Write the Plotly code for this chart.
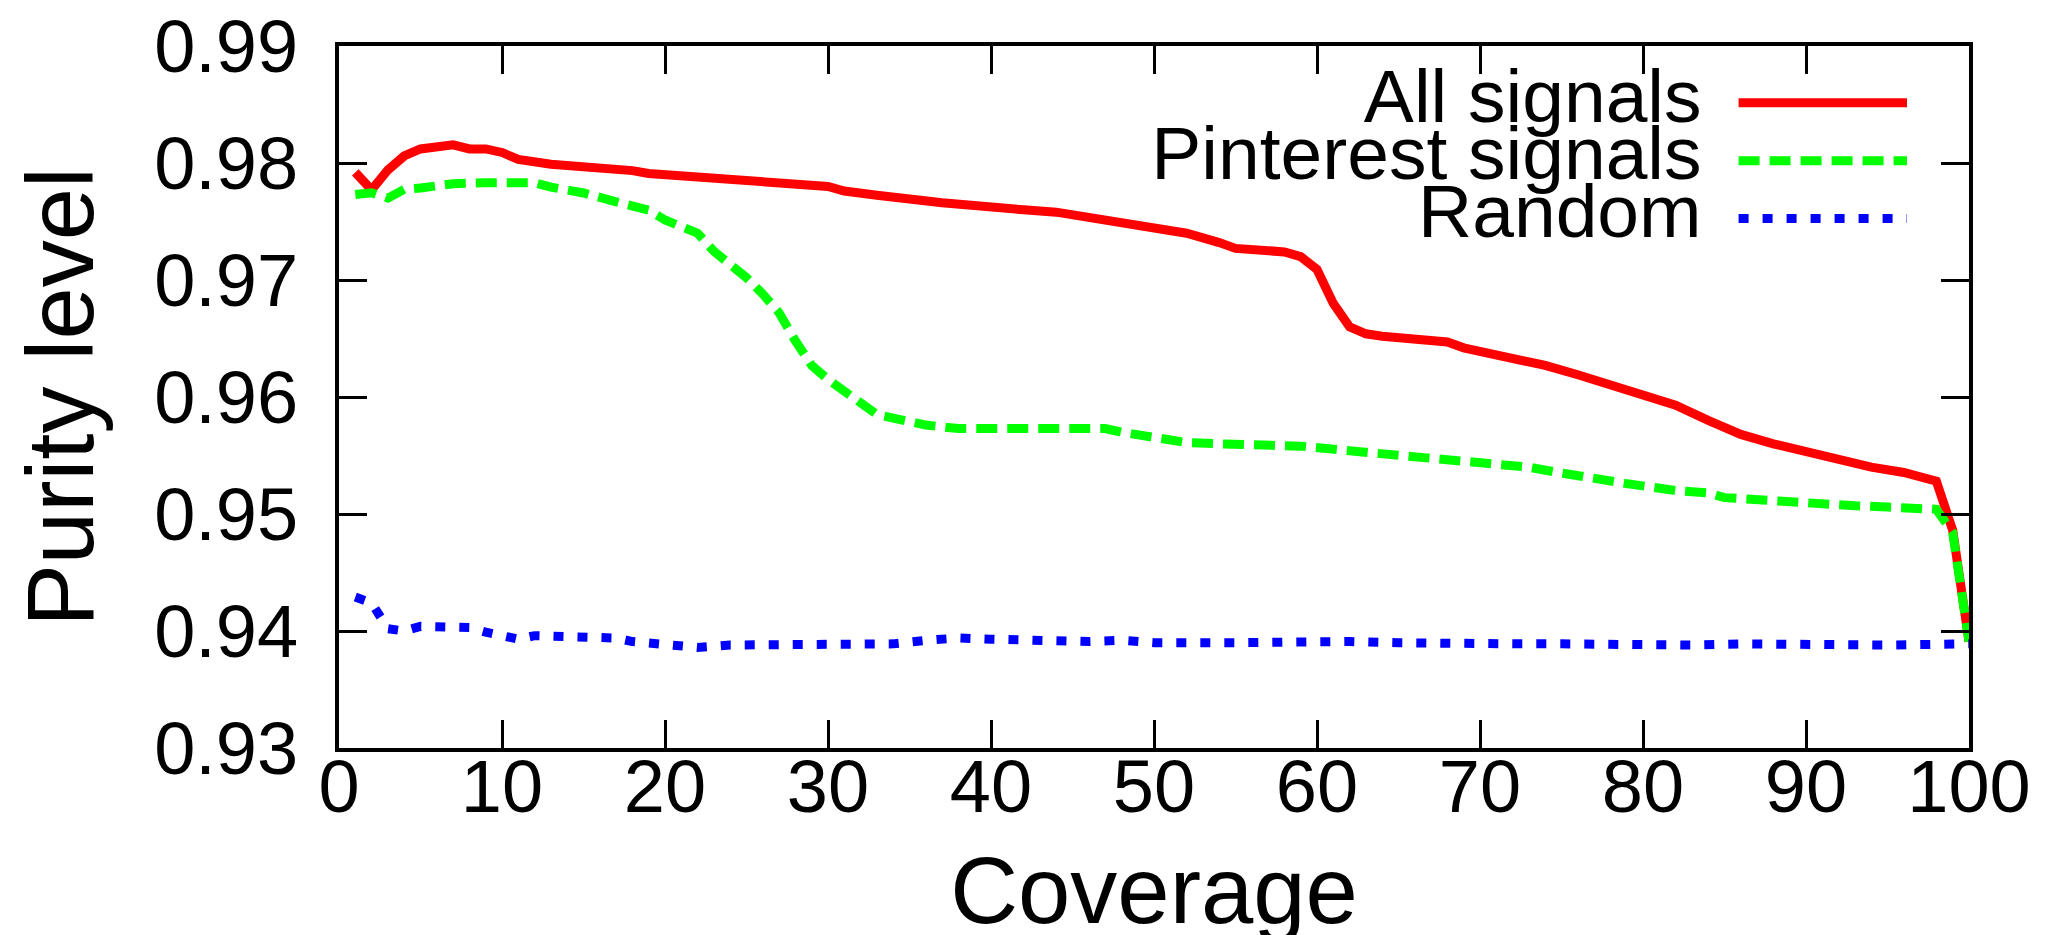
import plotly.graph_objects as go

# ---- data ----
all_x = [1, 2, 3, 4, 5, 7, 8, 9, 10, 11, 13, 16, 18, 19, 20, 22, 24, 26, 28, 30, 31, 32, 33,
         37, 39, 42, 44, 47, 50, 52, 54, 55, 58, 59, 60, 61, 62, 63, 64, 66, 68, 69, 71, 74,
         76, 78, 81, 82, 84, 86, 88, 90, 92, 94, 96, 98, 99, 100]
all_y = [0.9792, 0.9777, 0.9794, 0.9806, 0.9812, 0.98155, 0.9812, 0.9812, 0.9809, 0.9803,
         0.9799, 0.9796, 0.97935, 0.9791, 0.9790, 0.9787, 0.97865, 0.9784, 0.9781, 0.9780,
         0.9776, 0.9775, 0.97725, 0.9766, 0.9763, 0.9760, 0.9758, 0.9751, 0.9745, 0.9740,
         0.9732, 0.9727, 0.9724, 0.9720, 0.9709, 0.9680, 0.9660, 0.9654, 0.9652, 0.9650,
         0.9647, 0.9642, 0.9636, 0.9627, 0.9619, 0.9610, 0.9597, 0.9593, 0.9580, 0.9568,
         0.9560, 0.9553, 0.95455, 0.9540, 0.95355, 0.9528, 0.9486, 0.9391]

pin_x = [1, 2, 3, 4, 5, 7, 9, 10, 12, 13, 15, 17, 19, 20, 22, 23, 24, 25, 26, 27, 28, 29,
         30, 31, 32, 33, 34, 36, 38, 42, 47, 48, 50, 52, 54, 56, 59, 62, 65, 68, 70, 73, 75,
         77, 79, 82, 84, 85, 87, 89, 91, 93, 95, 97, 98, 99, 100]
pin_y = [0.9773, 0.97746, 0.9770, 0.97775, 0.97786, 0.97823, 0.97831, 0.97837, 0.97831,
         0.97794, 0.97744, 0.97668, 0.97597, 0.97513, 0.9740, 0.97245, 0.9713, 0.9702,
         0.9688, 0.9672, 0.9648, 0.9627, 0.9615, 0.9605, 0.9594, 0.9585, 0.9582, 0.9576,
         0.9573, 0.9573, 0.9573, 0.9570, 0.9566, 0.9561, 0.9560, 0.9559, 0.9558, 0.9554,
         0.9550, 0.9547, 0.9543, 0.9540, 0.9535, 0.9530, 0.9526, 0.9520, 0.9518, 0.9514,
         0.9512, 0.9510, 0.9508, 0.9507, 0.9506, 0.9505, 0.9504, 0.9484, 0.9391]

rnd_x = [1, 2, 3, 4, 5, 7, 8, 9, 11, 12, 15, 17, 18, 20, 22, 24, 28, 30, 32, 34, 36, 38,
         40, 42, 46, 48, 50, 55, 58, 62, 65, 68, 70, 72, 75, 78, 83, 86, 90, 95, 100]
rnd_y = [0.9429, 0.9424, 0.9402, 0.9400, 0.9404, 0.9403, 0.9403, 0.9399, 0.9393, 0.9396,
         0.9395, 0.9394, 0.9391, 0.9389, 0.9386, 0.9388, 0.9388, 0.9389, 0.9388, 0.9389,
         0.9392, 0.9394, 0.9393, 0.9392, 0.9391, 0.9392, 0.9390, 0.9390, 0.9391, 0.9391,
         0.9390, 0.9389, 0.9390, 0.9389, 0.9389, 0.9388, 0.9388, 0.9389, 0.9388, 0.9388,
         0.9389]

series_names = ["All signals", "Pinterest signals", "Random"]
x_ticks = [0, 10, 20, 30, 40, 50, 60, 70, 80, 90, 100]
y_ticks = [0.93, 0.94, 0.95, 0.96, 0.97, 0.98, 0.99]

# ---- styles ----
FONT = "Liberation Sans, Arial, Helvetica, sans-serif"
styles = [
    dict(color="#ff0000", width=9, dash="solid"),
    dict(color="#00ff00", width=9, dash="21px,10px"),
    dict(color="#0000ff", width=9, dash="10px,14px"),
]

fig = go.Figure()
for xs, ys, name, st in zip([all_x, pin_x, rnd_x], [all_y, pin_y, rnd_y], series_names, styles):
    fig.add_trace(go.Scatter(x=xs, y=ys, mode="lines", name=name, line=st,
                             showlegend=False))

# gnuplot-style key: label right-aligned, sample line to its right (overlay axes)
rows = [0, 1, 2]
for r, name, st in zip(rows, series_names, styles):
    fig.add_trace(go.Scatter(x=[0, 1], y=[r, r], mode="lines", line=st, name=name,
                             xaxis="x2", yaxis="y2", showlegend=False, hoverinfo="skip"))
fig.add_trace(go.Scatter(x=[-0.22] * 3, y=rows, mode="text", text=series_names,
                         textposition="middle left", cliponaxis=False,
                         textfont=dict(family=FONT, size=75, color="black"),
                         xaxis="x2", yaxis="y2", showlegend=False, hoverinfo="skip"))

axis_common = dict(
    showline=True, linecolor="black", linewidth=4, mirror="ticks",
    ticks="inside", ticklen=28, tickwidth=3, tickcolor="black",
    showgrid=False, zeroline=False, ticklabeloverflow="allow",
    tickfont=dict(family=FONT, size=74, color="black"),
)

fig.update_layout(
    width=2056, height=935,
    margin=dict(l=331, r=95, t=38, b=195, autoexpand=False),
    paper_bgcolor="white", plot_bgcolor="white",
    font=dict(family=FONT, color="black"),
    xaxis=dict(range=[0, 100], tickvals=x_ticks, ticklabelstandoff=-29,
               title=dict(text="Coverage", font=dict(family=FONT, size=94), standoff=49),
               **axis_common),
    yaxis=dict(range=[0.93, 0.99], tickvals=y_ticks, tickformat=".2f", ticklabelstandoff=22,
               title=dict(text="Purity level", font=dict(family=FONT, size=94), standoff=32),
               **axis_common),
    xaxis2=dict(domain=[0.8328, 0.962], range=[-0.25, 1], anchor="y2",
                visible=False, fixedrange=True),
    yaxis2=dict(domain=[0.7131, 0.9602], range=[2.5, -0.5], anchor="x2",
                visible=False, fixedrange=True),
    showlegend=False,
)

fig.write_html("out.html")
